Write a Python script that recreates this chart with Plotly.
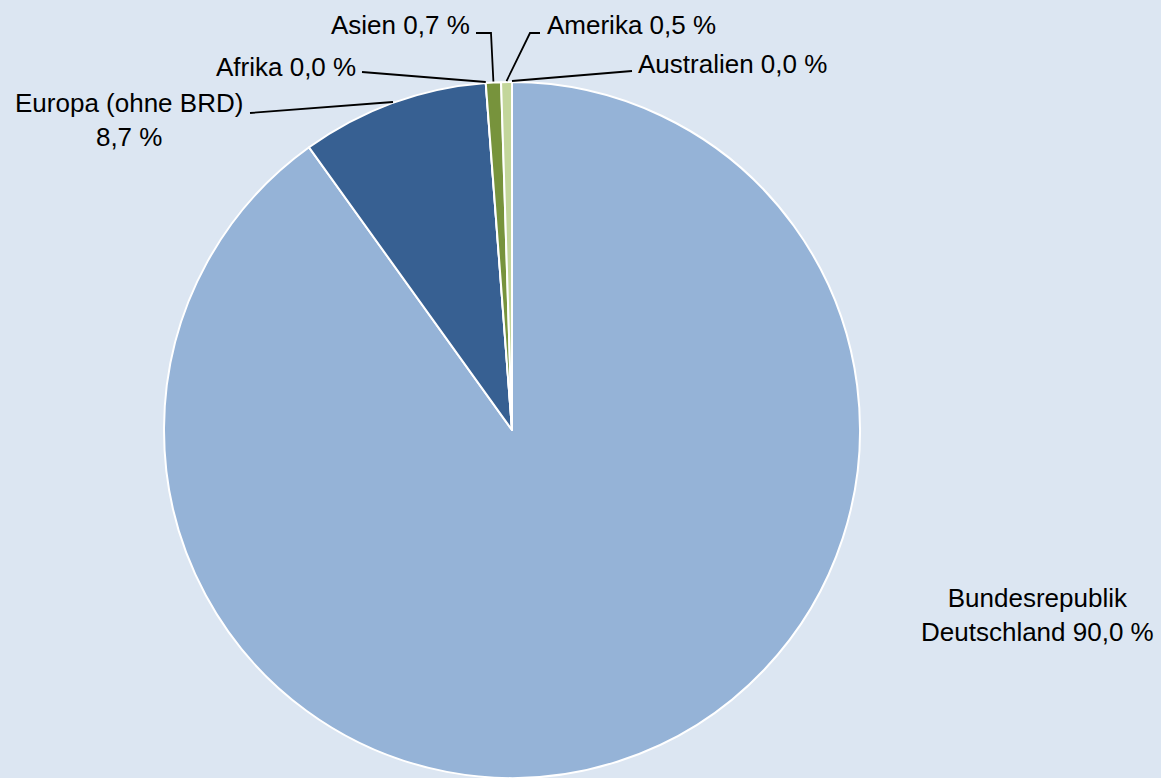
import math
import plotly.graph_objects as go

# Herkunft - Anteile in Prozent
regions = ["Bundesrepublik Deutschland", "Europa (ohne BRD)", "Afrika", "Asien", "Amerika", "Australien"]
shares = [90.0, 8.7, 0.0, 0.7, 0.5, 0.0]
label_texts = [
    "Bundesrepublik<br>Deutschland 90,0 %",
    "Europa (ohne BRD)<br>8,7 %",
    "Afrika 0,0 %",
    "Asien 0,7 %",
    "Amerika 0,5 %",
    "Australien 0,0 %",
]
colors = ["#95B3D7", "#376092", "#4F6228", "#77933C", "#C3D69B", "#D7E4BD"]

W, H = 1161, 778
BG = "#DCE6F2"
FONT = "Liberation Sans, Arial, sans-serif"
FS = 26

# pie geometry in pixels
CX, CY, R = 512, 430, 348


def px(x, y):
    return x / W, 1 - y / H


def edge_point(frac):
    # clockwise from 12 o'clock
    a = 2 * math.pi * frac
    return CX + R * math.sin(a), CY - R * math.cos(a)


total = sum(shares)
mids = []
acc = 0
for v in shares:
    mids.append((acc + v / 2) / total)
    acc += v

fig = go.Figure(
    go.Pie(
        labels=regions,
        values=shares,
        sort=False,
        direction="clockwise",
        rotation=0,
        marker=dict(colors=colors, line=dict(color="white", width=2)),
        textinfo="none",
        hoverinfo="label+percent",
        showlegend=False,
        domain=dict(x=[(CX - R) / W, (CX + R) / W], y=[1 - (CY + R) / H, 1 - (CY - R) / H]),
    )
)

# label placement: (x, y, xanchor, leader-line points before edge)
placement = {
    0: (1037, 615, "center", None),
    1: (245, 120, "right", [(250, 113)]),
    2: (358, 67, "right", [(362, 72)]),
    3: (472, 25, "right", [(476, 33), (491, 33)]),
    4: (545, 25, "left", [(540, 33), (530, 33)]),
    5: (636, 64, "left", [(632, 71)]),
}

shapes = []
annotations = []
for i, txt in enumerate(label_texts):
    x, y, anchor, pts = placement[i]
    ax, ay = px(x, y)
    annotations.append(dict(
        x=ax, y=ay, xref="paper", yref="paper", text=txt, showarrow=False,
        xanchor=anchor, yanchor="middle", align="center",
        font=dict(family=FONT, size=FS, color="black"),
    ))
    if pts:
        ex, ey = edge_point(mids[i])
        pts = pts + [(ex, ey - 1)]
        path = ""
        for k, (qx, qy) in enumerate(pts):
            sx, sy = px(qx, qy)
            path += ("M" if k == 0 else "L") + f"{sx:.5f},{sy:.5f} "
        shapes.append(dict(type="path", path=path.strip(), xref="paper", yref="paper",
                           line=dict(color="black", width=1.8)))

fig.update_layout(
    width=W, height=H,
    margin=dict(l=0, r=0, t=0, b=0),
    paper_bgcolor=BG,
    plot_bgcolor=BG,
    shapes=shapes,
    annotations=annotations,
)

fig.write_html(
    "out.html",
    config={"displayModeBar": False},
    post_script="document.body.style.margin='0';document.body.style.overflow='hidden';",
)
